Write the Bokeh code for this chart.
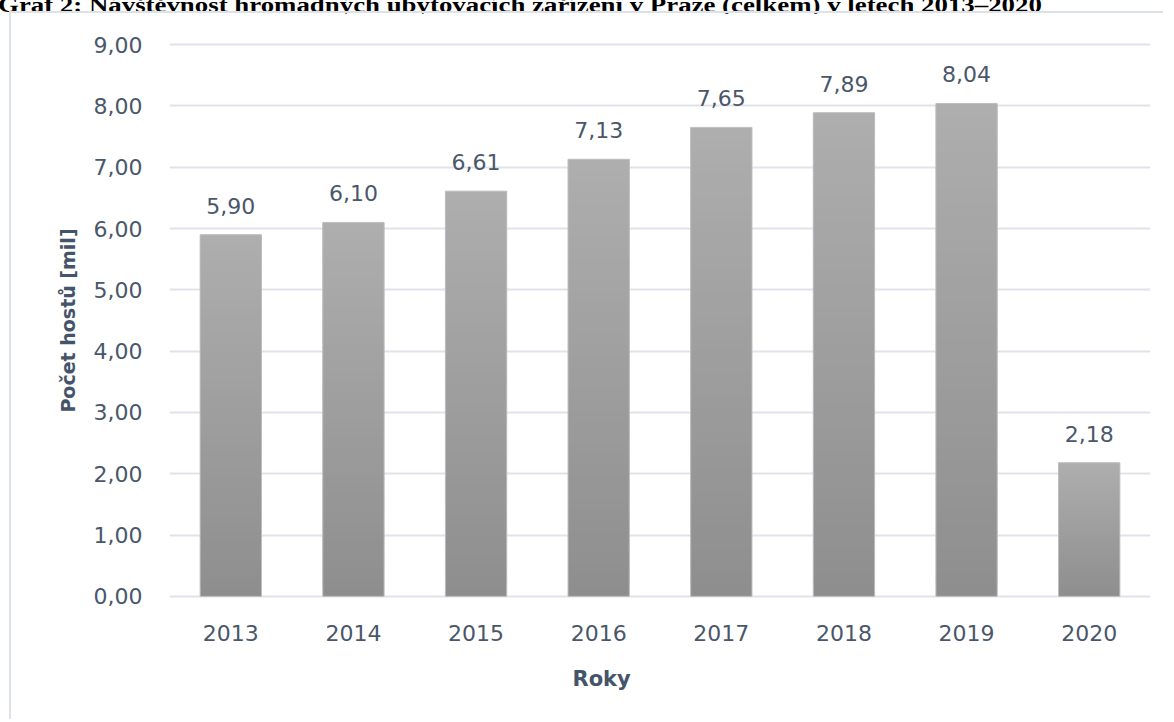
from bokeh.plotting import figure
from bokeh.models import (Div, FixedTicker, CustomJSTickFormatter, LabelSet,
                          ColumnDataSource, Title, Range1d, FactorRange)
from bokeh.core.properties import value
from bokeh.layouts import column
from bokeh.embed import file_html
from bokeh.resources import INLINE

# ---------------- data ----------------
title_text = "Graf 2: Návštěvnost hromadných ubytovacích zařízení v Praze (celkem) v letech 2013–2020"
years = ["2013", "2014", "2015", "2016", "2017", "2018", "2019", "2020"]
guests = [5.90, 6.10, 6.61, 7.13, 7.65, 7.89, 8.04, 2.18]
y_ticks = [0, 1, 2, 3, 4, 5, 6, 7, 8, 9]
y_axis_title = "Počet hostů [mil]"
x_axis_title = "Roky"

TEXT = "#44546a"
TICK_TEXT = "#4a576b"
GRID = "#dfe3ea"
FONT = "DejaVu Sans"

# ---------------- figure ----------------
p = figure(
    x_range=FactorRange(*years), y_range=Range1d(-0.1, 9.1),
    width=1154, height=708,
    min_border_left=158, min_border_right=15, min_border_top=25, min_border_bottom=119,
    output_backend="svg", toolbar_location=None, tools="",
    background_fill_color="white", border_fill_color="white",
    outline_line_color=None,
    margin=(0, 0, 0, 9),
    styles={"border-left": "2px solid #dde2e9", "border-top": "2px solid #dde2e9"},
)

# gradient bars (each bar split into overlapping bands, lighter at top)
n_bands = 40
top_rgb = (0xae, 0xae, 0xae)
bot_rgb = (0x8e, 0x8e, 0x8e)
gx, gb, gt, gc = [], [], [], []
for yr, v in zip(years, guests):
    for i in range(n_bands):
        f = (i + 0.5) / n_bands
        c = tuple(int(round(b + (t - b) * f)) for t, b in zip(top_rgb, bot_rgb))
        gx.append(yr)
        gb.append(v * i / n_bands)
        gt.append(min(v, v * (i + 1.8) / n_bands))
        gc.append("#%02x%02x%02x" % c)
p.vbar(x=gx, bottom=gb, top=gt, width=0.5, fill_color=gc, line_color=None)

src = ColumnDataSource(dict(
    year=years, value=guests,
    label=[("%.2f" % v).replace(".", ",") for v in guests],
))
p.vbar(x="year", top="value", bottom=0, width=0.5, source=src,
       fill_alpha=0, line_color="#bdbdbd", line_width=1)

labels = LabelSet(x="year", y="value", text="label", source=src,
                  text_align="center", text_baseline="alphabetic", y_offset=21,
                  text_font=value(FONT), text_font_size="22px", text_color=TICK_TEXT)
p.add_layout(labels)

# axes
p.yaxis.ticker = FixedTicker(ticks=y_ticks)
p.yaxis.formatter = CustomJSTickFormatter(code="return tick.toFixed(2).replace('.', ',');")
for ax in (p.xaxis[0], p.yaxis[0]):
    ax.axis_line_color = None
    ax.major_tick_line_color = None
    ax.minor_tick_line_color = None
    ax.major_tick_out = 0
    ax.major_tick_in = 0
    ax.major_label_text_font = FONT
    ax.major_label_text_font_size = "22px"
    ax.major_label_text_color = TICK_TEXT
p.yaxis.major_label_standoff = 27
p.xaxis.major_label_standoff = 22

p.yaxis.axis_label = y_axis_title
p.yaxis.axis_label_text_font = FONT
p.yaxis.axis_label_text_font_style = "bold"
p.yaxis.axis_label_text_font_size = "19px"
p.yaxis.axis_label_text_color = TEXT
p.yaxis.axis_label_standoff = 12

p.xgrid.grid_line_color = None
p.ygrid.grid_line_color = GRID
p.ygrid.grid_line_width = 2

roky = Title(text=x_axis_title, align="left", offset=403, standoff=42,
             text_font=FONT, text_font_style="bold", text_font_size="21px",
             text_color=TEXT)
p.add_layout(roky, "below")

title = Div(
    text=('<div style="position:relative;top:-6px;left:-2px;'
          'font-family:\'Liberation Serif\';font-weight:bold;'
          'font-size:22px;line-height:22px;white-space:nowrap;color:#000;'
          'transform:scaleX(1.22);transform-origin:0 0">'
          + title_text + '</div>'),
    width=1100, height=11, margin=(0, 0, 0, 0),
)

layout = column(title, p, spacing=0)

open("out.html", "w").write(file_html(layout, INLINE))
